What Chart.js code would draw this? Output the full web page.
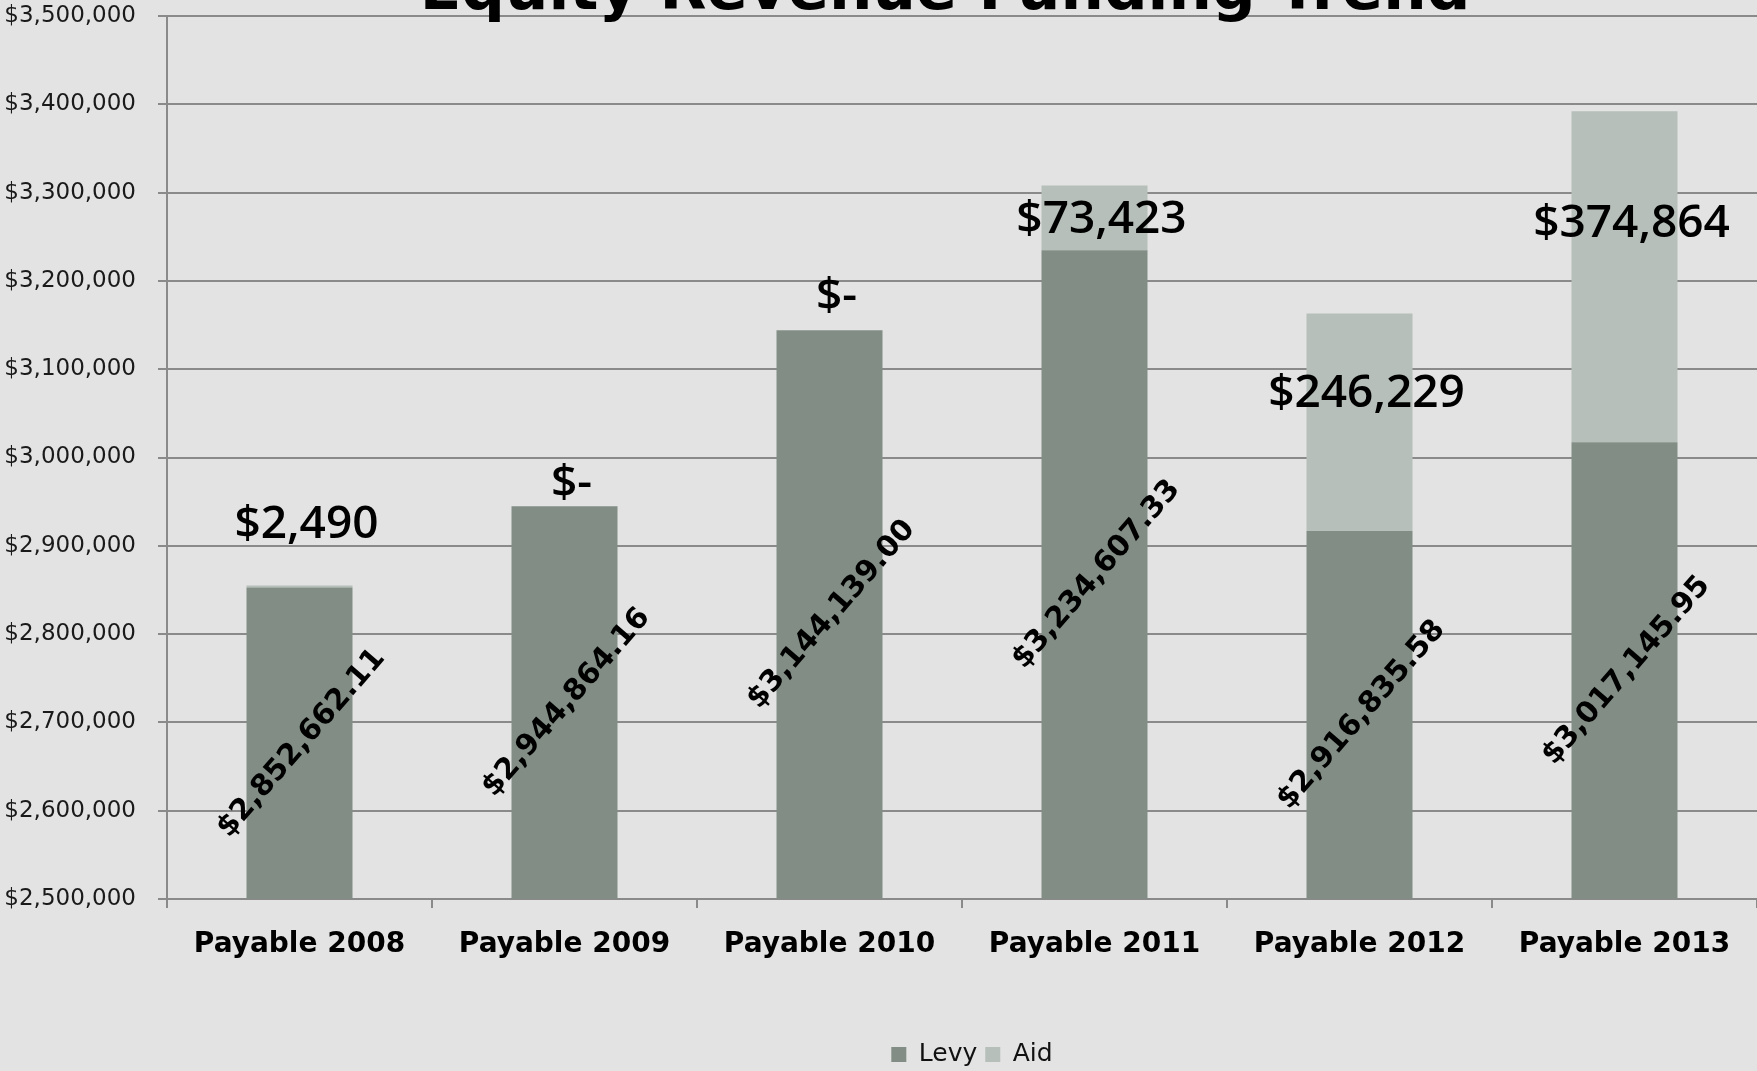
<!DOCTYPE html>
<html>
<head>
<meta charset="utf-8">
<script src="https://cdn.jsdelivr.net/npm/chart.js@4/dist/chart.umd.min.js"></script>
<style>
html,body{margin:0;padding:0;background:#e3e3e3;}
#wrap{width:1757px;height:1071px;position:relative;}
</style>
</head>
<body>
<div id="wrap"><canvas id="c"></canvas></div>
<script>
// ---- data ----
const chartTitle = 'Equity Revenue Funding Trend';
const categories = ['Payable 2008', 'Payable 2009', 'Payable 2010', 'Payable 2011', 'Payable 2012', 'Payable 2013'];
const seriesNames = ['Levy', 'Aid'];
const levyValues = [2852662.11, 2944864.16, 3144139.00, 3234607.33, 2916835.58, 3017145.95];
const aidValues = [2490, 0, 0, 73423, 246229, 374864];
const yMin = 2500000;
const yMax = 3500000;
const yStep = 100000;

// ---- styles ----
const levyColor = '#828e85';
const aidColor = '#b6bfb9';
const gridColor = '#8a8a8a';
const aidLabelShift = [-61, -22, -33, 34, 80, 113]; // px from stack top to label centre

const fmtLevy = v => '$' + v.toLocaleString('en-US', {minimumFractionDigits: 2, maximumFractionDigits: 2});
const fmtAid = v => v === 0 ? '$-' : '$' + v.toLocaleString('en-US');
const fmtTick = v => '$' + Number(v).toLocaleString('en-US');

const bgPlugin = {
  id: 'bg',
  beforeDraw(chart) {
    const ctx = chart.ctx;
    ctx.save();
    ctx.fillStyle = '#e3e3e3';
    ctx.fillRect(0, 0, chart.width, chart.height);
    ctx.restore();
  }
};

const legendShift = {
  id: 'legendShift',
  afterLayout(chart) {
    if (chart.legend) {
      chart.legend.left = chart.chartArea.left + 10;
      chart.legend.right = chart.chartArea.right + 10;
    }
  }
};

const labelPlugin = {
  id: 'barLabels',
  afterDatasetsDraw(chart) {
    const ctx = chart.ctx;
    const area = chart.chartArea;
    const levyMeta = chart.getDatasetMeta(0);
    const aidMeta = chart.getDatasetMeta(1);
    ctx.save();
    ctx.fillStyle = '#000';
    ctx.textAlign = 'center';
    ctx.textBaseline = 'middle';
    levyMeta.data.forEach((bar, i) => {
      const bottom = Math.min(bar.base, area.bottom);
      const cy = (bar.y + bottom) / 2;
      ctx.save();
      ctx.translate(bar.x + 2, cy);
      ctx.rotate(-49 * Math.PI / 180);
      ctx.font = 'bold 29.5px "DejaVu Sans"';
      ctx.fillText(fmtLevy(levyValues[i]), 0, 0);
      ctx.restore();
    });
    aidMeta.data.forEach((bar, i) => {
      ctx.font = '600 46px "Open Sans"';
      ctx.fillText(fmtAid(aidValues[i]), bar.x + 7, bar.y + aidLabelShift[i]);
    });
    ctx.restore();
  }
};

const titlePlugin = {
  id: 'cutTitle',
  afterDraw(chart) {
    const ctx = chart.ctx;
    ctx.save();
    ctx.fillStyle = '#000';
    ctx.font = 'bold 61px "DejaVu Sans"';
    ctx.textAlign = 'center';
    ctx.textBaseline = 'alphabetic';
    ctx.fillText(chartTitle, 945, 9);
    ctx.restore();
  }
};

new Chart(document.getElementById('c'), {
  type: 'bar',
  data: {
    labels: categories,
    datasets: [
      {label: seriesNames[0], data: levyValues, backgroundColor: levyColor, borderWidth: 0},
      {label: seriesNames[1], data: aidValues, backgroundColor: aidColor, borderWidth: 0}
    ]
  },
  options: {
    responsive: true,
    maintainAspectRatio: false,
    animation: false,
    layout: {padding: {top: 16, left: 0, right: 0, bottom: -6}},
    datasets: {bar: {categoryPercentage: 1.0, barPercentage: 0.4}},
    plugins: {
      title: {display: false},
      tooltip: {enabled: false},
      legend: {
        display: true,
        position: 'bottom',
        labels: {
          boxWidth: 15, boxHeight: 15, padding: 8,
          color: '#111',
          font: {family: '"DejaVu Sans"', size: 25}
        }
      }
    },
    scales: {
      x: {
        stacked: true,
        grid: {display: true, drawOnChartArea: false, drawTicks: true, tickLength: 9, color: gridColor, lineWidth: 2, offset: true},
        border: {display: true, color: gridColor, width: 2},
        ticks: {color: '#000', padding: 20, maxRotation: 0, font: {family: '"DejaVu Sans"', size: 28, weight: 'bold'}},
        afterFit(scale) {
          const lg = scale.chart.legend;
          const lh = lg ? lg.height : 0;
          scale.height = scale.chart.height + 6 - lh - 899;
          scale.paddingLeft = 0;
          scale.paddingRight = 0;
        }
      },
      y: {
        stacked: true,
        min: yMin, max: yMax,
        grid: {color: gridColor, lineWidth: 2, drawTicks: true, tickLength: 9},
        border: {display: true, color: gridColor, width: 2},
        ticks: {stepSize: yStep, color: '#1a1a1a', padding: 22, font: {family: '"DejaVu Sans"', size: 23}, callback: v => fmtTick(v)},
        afterFit(scale) {
          scale.width = 167;
          scale.paddingTop = 0;
          scale.paddingBottom = 0;
        }
      }
    }
  },
  plugins: [bgPlugin, legendShift, labelPlugin, titlePlugin]
});
</script>
</body>
</html>
